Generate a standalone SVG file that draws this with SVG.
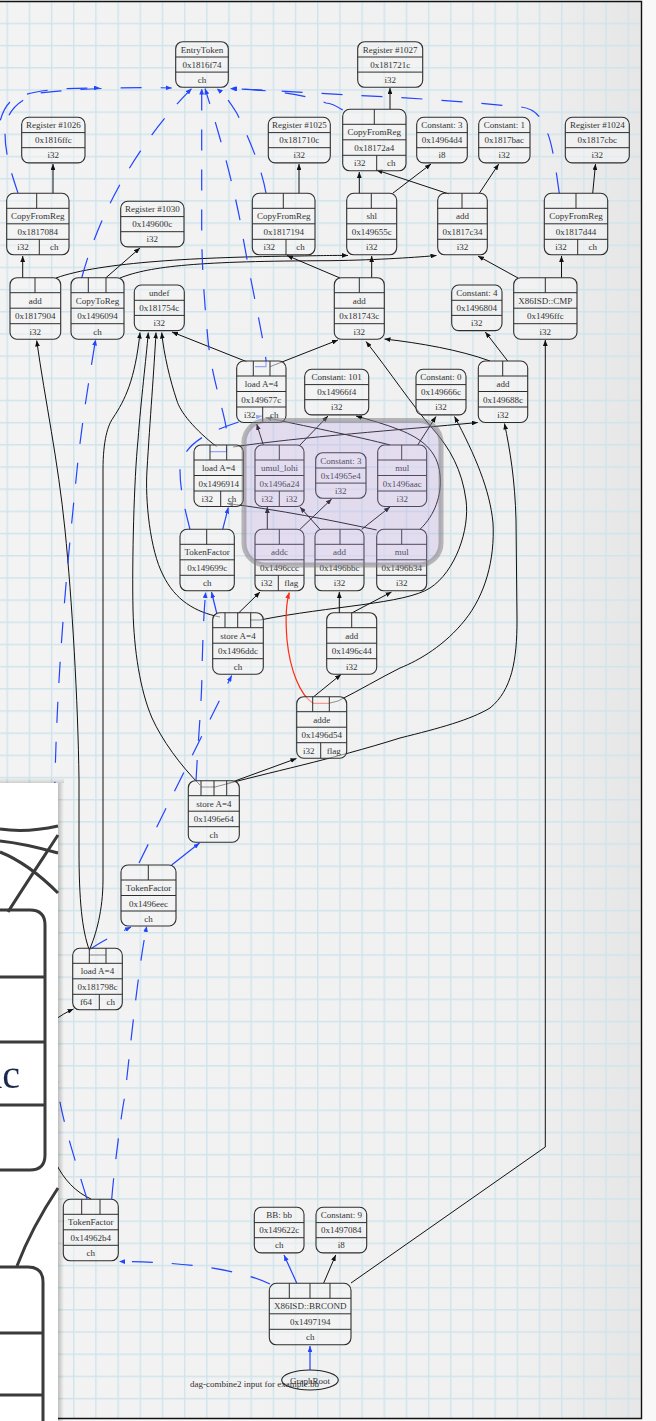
<svg xmlns="http://www.w3.org/2000/svg" width="656" height="1421" viewBox="0 0 656 1421">
<defs>
<style>
.nb{fill:#f4f4f4;fill-opacity:.55;stroke:#2e2e2e;stroke-width:1.1}
.nl{fill:none;stroke:#2e2e2e;stroke-width:1}
.t{font-family:"Liberation Serif","Times New Roman",serif;font-size:9px;fill:#333;text-anchor:middle}
.e{fill:none;stroke:#111;stroke-width:1;marker-end:url(#ab)}
.en{fill:none;stroke:#111;stroke-width:1}
.c{fill:none;stroke:#2244ff;stroke-width:1.2;stroke-dasharray:21 19;marker-end:url(#ac)}
.cs{fill:none;stroke:#2244ff;stroke-width:1.2;marker-end:url(#ac)}
.r{fill:none;stroke:#ff2a10;stroke-width:1.2;marker-end:url(#ar)}
.ink{fill:none;stroke:#3a3a3a;stroke-width:3}
</style>
<pattern id="grid" x="6.5" y="0.5" width="22.18" height="22.18" patternUnits="userSpaceOnUse">
<path d="M0.7,0V22.18M0,0.7H22.18" stroke="#cfe4ec" stroke-width="1.4" fill="none"/>
</pattern>
<linearGradient id="page" x1="0" y1="0" x2="1" y2="0">
<stop offset="0" stop-color="#f3f3f3"/><stop offset="0.8" stop-color="#f0f0f0"/><stop offset="1" stop-color="#e6e6e6"/>
</linearGradient>
<linearGradient id="sh" x1="0" y1="0" x2="1" y2="0">
<stop offset="0" stop-color="#000" stop-opacity=".22"/><stop offset="1" stop-color="#000" stop-opacity="0"/>
</linearGradient>
<linearGradient id="shv" x1="0" y1="1" x2="0" y2="0">
<stop offset="0" stop-color="#000" stop-opacity=".15"/><stop offset="1" stop-color="#000" stop-opacity="0"/>
</linearGradient>
<filter id="blur" x="-10%" y="-10%" width="120%" height="120%"><feGaussianBlur stdDeviation="0.7"/></filter>
<marker id="ab" viewBox="0 0 10 8" refX="10" refY="4" markerWidth="6" markerHeight="4.8" markerUnits="userSpaceOnUse" orient="auto"><path d="M0,0L10,4L0,8z" fill="#111"/></marker>
<marker id="ac" viewBox="0 0 10 8" refX="10" refY="4" markerWidth="6" markerHeight="4.8" markerUnits="userSpaceOnUse" orient="auto"><path d="M0,0L10,4L0,8z" fill="#2244ff"/></marker>
<marker id="ar" viewBox="0 0 10 8" refX="10" refY="4" markerWidth="6" markerHeight="4.8" markerUnits="userSpaceOnUse" orient="auto"><path d="M0,0L10,4L0,8z" fill="#ff2a10"/></marker>
</defs>

<rect x="0" y="0" width="656" height="1421" fill="#f8f8f8"/>
<rect x="0" y="1.5" width="641.5" height="1417" fill="url(#page)"/>
<rect x="0" y="1.5" width="641.5" height="1417" fill="url(#grid)"/>
<path d="M0,1.5H641.5V1418.5H0" fill="none" stroke="#111" stroke-width="1.4"/>

<g id="connectors">
<!-- data edges -->
<path class="e" d="M53,193.3V164"/>
<path class="e" d="M299,193.3V164"/>
<path class="e" d="M390,109.3V88"/>
<path class="e" d="M592.7,193.3L595.5,164"/>
<path class="e" d="M359.3,193.3V172"/>
<path class="e" d="M392.7,193.3L431,164"/>
<path class="e" d="M449,194L376.5,170"/>
<path class="e" d="M479.3,193.3L498.7,164"/>
<path class="e" d="M371.7,277.7V256"/>
<path class="e" d="M340,278L287,255.5"/>
<path class="e" d="M518,278L478,256"/>
<path class="e" d="M561.5,277.7V256"/>
<path class="e" d="M22.7,277.7V256"/>
<path class="e" d="M56,278C100,262 200,257 300,256C325,255.5 338,255.3 348,255.5"/>
<path class="e" d="M106,277.7L140,248"/>
<path class="e" d="M120,278C150,266 200,261 330,260.7C380,260 420,257 436.5,255.5"/>
<path class="e" d="M246.7,361.7L172,332"/>
<path class="e" d="M270,366.7L338,340"/>
<path class="e" d="M490,361C460,350 420,343 384.5,339"/>
<path class="e" d="M507.7,361L485.3,332"/>
<path class="e" d="M216.7,446.7C195,430 180,412 176.7,400C170,380 164,355 161.7,332.5"/>
<path class="e" d="M233,447C300,437 400,430 477.7,422.5"/>
<path class="e" d="M263.3,445L256.7,424"/>
<path class="e" d="M300,445L328,416"/>
<path class="e" d="M390,445C360,437 300,425 265.5,417.5"/>
<path class="e" d="M417.7,445L436,416.5"/>
<path class="e" d="M267.3,529.3V507"/>
<path class="e" d="M300,529.3L331.7,499"/>
<path class="e" d="M320,529.3L300,507"/>
<path class="e" d="M361.7,529.3L390,507"/>
<path class="e" d="M376.7,530C330,520 280,510 227,503.5"/>
<path class="e" d="M420,529.3C435,515 442,495 440,475C438,450 420,438 400,430C385,424 370,420 356,416"/>
<path class="e" d="M238.3,613.3L260,592"/>
<path class="e" d="M250,620H260C330,606 405,604 430,588C455,572 470,530 466,500C462,470 450,448 432,428C412,405 390,372 366,341.5"/>
<path class="e" d="M220,617C195,612 175,600 163,575C150,550 145,500 147,470C150,420 154,370 156,332.5"/>
<path class="e" d="M339.3,613V592"/>
<path class="e" d="M351.7,613L391.5,592"/>
<path class="e" d="M313.3,697L341,674.5"/>
<path class="en" d="M330,703L338,701"/>
<path class="e" d="M338,701C360,690 380,678 400,668C420,660 445,645 465,620C485,595 495,560 493,523C490,490 475,455 454.5,416.5"/>
<path class="e" d="M226.7,784L296.5,758.5"/>
<path class="e" d="M201,787H215C270,772 330,760 400,738C440,728 470,720 490,708C512,690 517,660 517,620L516,520C515,480 510,450 504.5,423.5"/>
<path class="e" d="M200,785C180,765 162,740 152,718C140,690 134,650 133,610C132,560 134,480 138,440C141,400 146,360 148.3,332.5"/>
<path class="en" d="M89.3,955H106"/>
<path class="e" d="M89.3,950C82,930 79,900 79,850L79,780C78,700 72,600 65,530C58,460 45,400 36.7,340.5"/>
<path class="e" d="M89.3,950C96,935 103,910 103,880L103,470C103,440 108,425 113,418C125,400 135,380 140,332.5"/>
<path class="e" d="M91,1199C60,1185 45,1150 40,1100L40,1040C45,1025 60,1015 73.5,1009"/>
<path class="e" d="M323.7,1283L335.7,1255"/>
<path class="e" d="M351,1283L545.3,1147V340"/>
<!-- red flag edge -->
<path class="r" d="M330,703.3H313C300,695 290,670 287,640C285,615 287,600 289.3,592.5"/>
<!-- chain edges -->
<path class="cs" d="M216.7,613L211.5,592"/>
<path class="cs" d="M222.7,529.3L228.3,507.5"/>
<path class="cs" d="M171.7,865L199.5,843"/>
<path class="cs" d="M296.7,1283L284,1255"/>
<path class="cs" d="M310,1370V1346"/>
<path class="c" d="M139,863C170,800 205,730 231.7,675.5"/>
<path class="c" d="M196,781C198,740 202,700 202,670C203,630 204,610 205.7,592"/>
<path class="c" d="M89.3,950C100,942 115,935 131,927"/>
<path class="c" d="M87,1199C75,1160 62,1120 58,1090C52,1000 53,850 55,778C58,650 70,540 77,470C82,420 90,375 95.5,339.5"/>
<path class="c" d="M111.7,1199C115,1160 122,1110 125,1095C130,1050 138,970 146.7,926"/>
<path class="c" d="M270,1284C240,1270 190,1262 119,1261.5"/>
<path class="c" d="M190,529.3C185,510 180,490 180,470C181,455 190,445 203,437C215,430 240,420 262,416"/>
<path class="c" d="M18,193C12,175 5,155 5,133C5,115 15,100 40,93C80,88 140,87 171.7,88"/>
<path class="c" d="M-5,160C-3,130 0,112 10,102C25,90 60,88 100,88"/>
<path class="c" d="M81.7,278C100,210 140,140 191.7,88.5"/>
<path class="c" d="M210,451.7H226.5V430C224,410 212,380 208,340C204,300 201.7,260 201.7,230L201.7,88.5"/>
<path class="c" d="M255,366.7H266V360C262,330 250,280 240,220C230,170 215,120 205,88.5"/>
<path class="c" d="M266,193C262,170 250,140 236.7,113C230,102 225,95 216.7,88.5"/>
<path class="c" d="M342.7,110C335,105 330,103 326,103C300,92 260,90 230,88.5"/>
<path class="c" d="M559.3,193.3C556,170 552,140 546,130C540,112 530,107 517,106.7C470,102 400,97 347.7,95C300,92 260,90 231,88.5"/>
</g>

<g id="nodes">
<g id="n_entry" transform="translate(175.7,41.7)"><rect class="nb" width="52.6" height="45.6" rx="7"/><path class="nl" d="M0,15.3H52.6M0,30.4H52.6"/><text class="t" x="26.3" y="11">EntryToken</text><text class="t" x="26.3" y="26">0x1816f74</text><text class="t" x="26.3" y="41.2">ch</text></g>
<g id="n_reg1027" transform="translate(357.7,41.7)"><rect class="nb" width="65" height="45.6" rx="7"/><path class="nl" d="M0,15.3H65M0,30.4H65"/><text class="t" x="32.5" y="11">Register #1027</text><text class="t" x="32.5" y="26">0x181721c</text><text class="t" x="32.5" y="41.2">i32</text></g>
<g id="n_reg1026" transform="translate(21.7,117.3)"><rect class="nb" width="63.3" height="45.6" rx="7"/><path class="nl" d="M0,15.3H63.3M0,30.4H63.3"/><text class="t" x="31.65" y="11">Register #1026</text><text class="t" x="31.65" y="26">0x1816ffc</text><text class="t" x="31.65" y="41.2">i32</text></g>
<g id="n_reg1025" transform="translate(268.3,117.3)"><rect class="nb" width="62" height="45.6" rx="7"/><path class="nl" d="M0,15.3H62M0,30.4H62"/><text class="t" x="31" y="11">Register #1025</text><text class="t" x="31" y="26">0x181710c</text><text class="t" x="31" y="41.2">i32</text></g>
<g id="n_const3a" transform="translate(416.7,117.3)"><rect class="nb" width="50.6" height="45.6" rx="7"/><path class="nl" d="M0,15.3H50.6M0,30.4H50.6"/><text class="t" x="25.3" y="11">Constant: 3</text><text class="t" x="25.3" y="26">0x14964d4</text><text class="t" x="25.3" y="41.2">i8</text></g>
<g id="n_const1" transform="translate(478.7,117.3)"><rect class="nb" width="51.3" height="45.6" rx="7"/><path class="nl" d="M0,15.3H51.3M0,30.4H51.3"/><text class="t" x="25.65" y="11">Constant: 1</text><text class="t" x="25.65" y="26">0x1817bac</text><text class="t" x="25.65" y="41.2">i32</text></g>
<g id="n_reg1024" transform="translate(565.3,117.3)"><rect class="nb" width="64" height="45.6" rx="7"/><path class="nl" d="M0,15.3H64M0,30.4H64"/><text class="t" x="32" y="11">Register #1024</text><text class="t" x="32" y="26">0x1817cbc</text><text class="t" x="32" y="41.2">i32</text></g>
<g id="n_cfr72a4" transform="translate(342.7,109.3)"><rect class="nb" width="63.3" height="61.5" rx="7"/><path class="nl" d="M0,15H63.3M0,30.5H63.3M0,46H63.3M31.6,0V15M34,46V61.5"/><text class="t" x="31.65" y="26">CopyFromReg</text><text class="t" x="31.65" y="41.5">0x18172a4</text><text class="t" x="17" y="57">i32</text><text class="t" x="48.65" y="57">ch</text></g>
<g id="n_cfr7084" transform="translate(6.7,193.3)"><rect class="nb" width="62.3" height="61.5" rx="7"/><path class="nl" d="M0,15H62.3M0,30.5H62.3M0,46H62.3M30,0V15M32.6,46V61.5"/><text class="t" x="31.15" y="26">CopyFromReg</text><text class="t" x="31.15" y="41.5">0x1817084</text><text class="t" x="16.3" y="57">i32</text><text class="t" x="47.45" y="57">ch</text></g>
<g id="n_reg1030" transform="translate(120.7,201.3)"><rect class="nb" width="63.3" height="45.6" rx="7"/><path class="nl" d="M0,15.3H63.3M0,30.4H63.3"/><text class="t" x="31.65" y="11">Register #1030</text><text class="t" x="31.65" y="26">0x149600c</text><text class="t" x="31.65" y="41.2">i32</text></g>
<g id="n_cfr7194" transform="translate(252.3,193.3)"><rect class="nb" width="62.7" height="61.5" rx="7"/><path class="nl" d="M0,15H62.7M0,30.5H62.7M0,46H62.7M31,0V15M33.7,46V61.5"/><text class="t" x="31.35" y="26">CopyFromReg</text><text class="t" x="31.35" y="41.5">0x1817194</text><text class="t" x="16.85" y="57">i32</text><text class="t" x="48.2" y="57">ch</text></g>
<g id="n_shl" transform="translate(346.7,193.3)"><rect class="nb" width="50" height="61.5" rx="7"/><path class="nl" d="M0,15H50M0,30.5H50M0,46H50M24.6,0V15"/><text class="t" x="25" y="26">shl</text><text class="t" x="25" y="41.5">0x149655c</text><text class="t" x="25" y="57">i32</text></g>
<g id="n_add7c34" transform="translate(437.7,193.3)"><rect class="nb" width="49.6" height="61.5" rx="7"/><path class="nl" d="M0,15H49.6M0,30.5H49.6M0,46H49.6M24.3,0V15"/><text class="t" x="24.8" y="26">add</text><text class="t" x="24.8" y="41.5">0x1817c34</text><text class="t" x="24.8" y="57">i32</text></g>
<g id="n_cfr7d44" transform="translate(544.3,193.3)"><rect class="nb" width="63.4" height="61.5" rx="7"/><path class="nl" d="M0,15H63.4M0,30.5H63.4M0,46H63.4M31.7,0V15M33.4,46V61.5"/><text class="t" x="31.7" y="26">CopyFromReg</text><text class="t" x="31.7" y="41.5">0x1817d44</text><text class="t" x="16.7" y="57">i32</text><text class="t" x="48.4" y="57">ch</text></g>
<g id="n_add7904" transform="translate(10,277.7)"><rect class="nb" width="50.7" height="61.5" rx="7"/><path class="nl" d="M0,15H50.7M0,30.5H50.7M0,46H50.7M25,0V15"/><text class="t" x="25.35" y="26">add</text><text class="t" x="25.35" y="41.5">0x1817904</text><text class="t" x="25.35" y="57">i32</text></g>
<g id="n_ctr" transform="translate(71,277.7)"><rect class="nb" width="53" height="61.5" rx="7"/><path class="nl" d="M0,15H53M0,30.5H53M0,46H53M17.3,0V15M35,0V15"/><text class="t" x="26.5" y="26">CopyToReg</text><text class="t" x="26.5" y="41.5">0x1496094</text><text class="t" x="26.5" y="57">ch</text></g>
<g id="n_undef" transform="translate(134.3,285)"><rect class="nb" width="50" height="45.6" rx="7"/><path class="nl" d="M0,15.3H50M0,30.4H50"/><text class="t" x="25" y="11">undef</text><text class="t" x="25" y="26">0x181754c</text><text class="t" x="25" y="41.2">i32</text></g>
<g id="n_add743c" transform="translate(334.3,277.7)"><rect class="nb" width="50" height="61.5" rx="7"/><path class="nl" d="M0,15H50M0,30.5H50M0,46H50M25,0V15"/><text class="t" x="25" y="26">add</text><text class="t" x="25" y="41.5">0x181743c</text><text class="t" x="25" y="57">i32</text></g>
<g id="n_const4" transform="translate(451.7,285)"><rect class="nb" width="50.3" height="45.6" rx="7"/><path class="nl" d="M0,15.3H50.3M0,30.4H50.3"/><text class="t" x="25.15" y="11">Constant: 4</text><text class="t" x="25.15" y="26">0x1496804</text><text class="t" x="25.15" y="41.2">i32</text></g>
<g id="n_cmp" transform="translate(513.7,277.7)"><rect class="nb" width="63.3" height="61.5" rx="7"/><path class="nl" d="M0,15H63.3M0,30.5H63.3M0,46H63.3M31.6,0V15"/><text class="t" x="31.65" y="26">X86ISD::CMP</text><text class="t" x="31.65" y="41.5">0x1496ffc</text><text class="t" x="31.65" y="57">i32</text></g>
<g id="n_load677c" transform="translate(236.7,361)"><rect class="nb" width="49.3" height="61.5" rx="7"/><path class="nl" d="M0,15H49.3M0,30.5H49.3M0,46H49.3M16.6,0V15M33.3,0V15M26,46V61.5"/><text class="t" x="24.65" y="26">load A=4</text><text class="t" x="24.65" y="41.5">0x149677c</text><text class="t" x="13" y="57">i32</text><text class="t" x="37.65" y="57">ch</text></g>
<g id="n_const101" transform="translate(304.7,369.3)"><rect class="nb" width="64" height="45.6" rx="7"/><path class="nl" d="M0,15.3H64M0,30.4H64"/><text class="t" x="32" y="11">Constant: 101</text><text class="t" x="32" y="26">0x14966f4</text><text class="t" x="32" y="41.2">i32</text></g>
<g id="n_const0" transform="translate(416,369.3)"><rect class="nb" width="50" height="45.6" rx="7"/><path class="nl" d="M0,15.3H50M0,30.4H50"/><text class="t" x="25" y="11">Constant: 0</text><text class="t" x="25" y="26">0x149666c</text><text class="t" x="25" y="41.2">i32</text></g>
<g id="n_add688c" transform="translate(478.3,361)"><rect class="nb" width="49.4" height="61.5" rx="7"/><path class="nl" d="M0,15H49.4M0,30.5H49.4M0,46H49.4M24.4,0V15"/><text class="t" x="24.7" y="26">add</text><text class="t" x="24.7" y="41.5">0x149688c</text><text class="t" x="24.7" y="57">i32</text></g>
<g id="n_load6914" transform="translate(194,445)"><rect class="nb" width="49.3" height="61.5" rx="7"/><path class="nl" d="M0,15H49.3M0,30.5H49.3M0,46H49.3M16,0V15M32.7,0V15M26.7,46V61.5"/><text class="t" x="24.65" y="26">load A=4</text><text class="t" x="24.65" y="41.5">0x1496914</text><text class="t" x="13.35" y="57">i32</text><text class="t" x="38" y="57">ch</text></g>
<g id="n_umul" transform="translate(255,445)"><rect class="nb" width="49" height="61.5" rx="7"/><path class="nl" d="M0,15H49M0,30.5H49M0,46H49M24.3,0V15M24.3,46V61.5"/><text class="t" x="24.5" y="26">umul_lohi</text><text class="t" x="24.5" y="41.5">0x1496a24</text><text class="t" x="12.15" y="57">i32</text><text class="t" x="36.65" y="57">i32</text></g>
<g id="n_const3b" transform="translate(315.7,452.7)"><rect class="nb" width="50.3" height="45.6" rx="7"/><path class="nl" d="M0,15.3H50.3M0,30.4H50.3"/><text class="t" x="25.15" y="11">Constant: 3</text><text class="t" x="25.15" y="26">0x14965e4</text><text class="t" x="25.15" y="41.2">i32</text></g>
<g id="n_mul6aac" transform="translate(377.7,445)"><rect class="nb" width="49" height="61.5" rx="7"/><path class="nl" d="M0,15H49M0,30.5H49M0,46H49M24,0V15"/><text class="t" x="24.5" y="26">mul</text><text class="t" x="24.5" y="41.5">0x1496aac</text><text class="t" x="24.5" y="57">i32</text></g>
<g id="n_tf699c" transform="translate(180,529.3)"><rect class="nb" width="54.3" height="61.5" rx="7"/><path class="nl" d="M0,15H54.3M0,30.5H54.3M0,46H54.3M26.7,0V15"/><text class="t" x="27.15" y="26">TokenFactor</text><text class="t" x="27.15" y="41.5">0x149699c</text><text class="t" x="27.15" y="57">ch</text></g>
<g id="n_addc" transform="translate(255,529.3)"><rect class="nb" width="49" height="61.5" rx="7"/><path class="nl" d="M0,15H49M0,30.5H49M0,46H49M24.3,0V15M23.3,46V61.5"/><text class="t" x="24.5" y="26">addc</text><text class="t" x="24.5" y="41.5">0x1496ccc</text><text class="t" x="11.65" y="57">i32</text><text class="t" x="36.15" y="57">flag</text></g>
<g id="n_add6bbc" transform="translate(315,529.3)"><rect class="nb" width="49" height="61.5" rx="7"/><path class="nl" d="M0,15H49M0,30.5H49M0,46H49M25,0V15"/><text class="t" x="24.5" y="26">add</text><text class="t" x="24.5" y="41.5">0x1496bbc</text><text class="t" x="24.5" y="57">i32</text></g>
<g id="n_mul6b34" transform="translate(376.7,529.3)"><rect class="nb" width="50" height="61.5" rx="7"/><path class="nl" d="M0,15H50M0,30.5H50M0,46H50M25,0V15"/><text class="t" x="25" y="26">mul</text><text class="t" x="25" y="41.5">0x1496b34</text><text class="t" x="25" y="57">i32</text></g>
<g id="n_store6ddc" transform="translate(212.7,612.7)"><rect class="nb" width="50.6" height="61.5" rx="7"/><path class="nl" d="M0,15H50.6M0,30.5H50.6M0,46H50.6M12.3,0V15M25,0V15M38,0V15"/><text class="t" x="25.3" y="26">store A=4</text><text class="t" x="25.3" y="41.5">0x1496ddc</text><text class="t" x="25.3" y="57">ch</text></g>
<g id="n_add6c44" transform="translate(326.7,612.7)"><rect class="nb" width="50" height="61.5" rx="7"/><path class="nl" d="M0,15H50M0,30.5H50M0,46H50M25,0V15"/><text class="t" x="25" y="26">add</text><text class="t" x="25" y="41.5">0x1496c44</text><text class="t" x="25" y="57">i32</text></g>
<g id="n_adde" transform="translate(296.7,696.7)"><rect class="nb" width="50" height="61.5" rx="7"/><path class="nl" d="M0,15H50M0,30.5H50M0,46H50M16,0V15M32.6,0V15M24,46V61.5"/><text class="t" x="25" y="26">adde</text><text class="t" x="25" y="41.5">0x1496d54</text><text class="t" x="12" y="57">i32</text><text class="t" x="37" y="57">flag</text></g>
<g id="n_store6e64" transform="translate(188.3,780.7)"><rect class="nb" width="51" height="61.5" rx="7"/><path class="nl" d="M0,15H51M0,30.5H51M0,46H51M12.7,0V15M25.7,0V15M38.4,0V15"/><text class="t" x="25.5" y="26">store A=4</text><text class="t" x="25.5" y="41.5">0x1496e64</text><text class="t" x="25.5" y="57">ch</text></g>
<g id="n_tf6eec" transform="translate(121,865)"><rect class="nb" width="55" height="61" rx="7"/><path class="nl" d="M0,15H55M0,30.5H55M0,46H55M27.3,0V15"/><text class="t" x="27.5" y="26">TokenFactor</text><text class="t" x="27.5" y="41.5">0x1496eec</text><text class="t" x="27.5" y="57">ch</text></g>
<g id="n_load798c" transform="translate(72.7,948.3)"><rect class="nb" width="49.6" height="61.5" rx="7"/><path class="nl" d="M0,15H49.6M0,30.5H49.6M0,46H49.6M16.6,0V15M33.3,0V15M26.6,46V61.5"/><text class="t" x="24.8" y="26">load A=4</text><text class="t" x="24.8" y="41.5">0x181798c</text><text class="t" x="13.3" y="57">f64</text><text class="t" x="38.1" y="57">ch</text></g>
<g id="n_tf62b4" transform="translate(63.3,1199.3)"><rect class="nb" width="55" height="61.5" rx="7"/><path class="nl" d="M0,15H55M0,30.5H55M0,46H55M18.4,0V15M36.7,0V15"/><text class="t" x="27.5" y="26">TokenFactor</text><text class="t" x="27.5" y="41.5">0x14962b4</text><text class="t" x="27.5" y="57">ch</text></g>
<g id="n_bb" transform="translate(254.3,1207.3)"><rect class="nb" width="49.7" height="45.6" rx="7"/><path class="nl" d="M0,15.3H49.7M0,30.4H49.7"/><text class="t" x="24.85" y="11">BB: bb</text><text class="t" x="24.85" y="26">0x149622c</text><text class="t" x="24.85" y="41.2">ch</text></g>
<g id="n_const9" transform="translate(316,1207.3)"><rect class="nb" width="50.7" height="45.6" rx="7"/><path class="nl" d="M0,15.3H50.7M0,30.4H50.7"/><text class="t" x="25.35" y="11">Constant: 9</text><text class="t" x="25.35" y="26">0x1497084</text><text class="t" x="25.35" y="41.2">i8</text></g>
<g id="n_brcond" transform="translate(269.3,1283.3)"><rect class="nb" width="81.7" height="61.5" rx="7"/><path class="nl" d="M0,15H81.7M0,30.5H81.7M0,46H81.7M20,0V15M40.7,0V15M60.7,0V15"/><text class="t" x="40.85" y="26">X86ISD::BRCOND</text><text class="t" x="40.85" y="41.5">0x1497194</text><text class="t" x="40.85" y="57">ch</text></g>
<g id="n_root"><ellipse cx="310" cy="1380" rx="28.3" ry="10" fill="none" stroke="#222" stroke-width="1.1"/><text class="t" x="310" y="1383.5">GraphRoot</text></g>
</g>

<text class="t" x="254.5" y="1386.5">dag-combine2 input for example.bb</text>

<g id="cluster">
<rect x="244" y="420.5" width="197" height="144.5" rx="22" fill="#b89ae8" fill-opacity=".25" stroke="#7a7a7a" stroke-opacity=".5" stroke-width="5"/>
</g>

<g id="inset">
<rect x="58" y="783" width="6" height="640" fill="url(#sh)"/>
<rect x="0" y="778" width="64" height="5" fill="url(#shv)"/>
<rect x="-2" y="783" width="60" height="640" fill="#ffffff"/>
<g filter="url(#blur)">
<path class="ink" d="M0,829C20,832 40,830 58,826"/>
<path class="ink" d="M0,841C20,843 40,848 58,853"/>
<path class="ink" d="M0,852C20,860 40,875 58,893"/>
<path class="ink" d="M8,912C25,885 45,855 58,835"/>
<path class="ink" d="M0,910H30Q45,910 45,925V1155Q45,1170 30,1170H0"/>
<path class="ink" d="M0,977H45M0,1042H45M0,1105H45"/>
<path class="ink" d="M58,1188C40,1215 25,1245 17,1266"/>
<path class="ink" d="M0,1267H28Q43,1267 43,1282V1425M0,1333H43M0,1395H43"/>
<text x="20" y="1088" font-family="Liberation Serif, serif" font-size="40" fill="#1d2b4a" text-anchor="end">ac</text>
</g>
</g>
</svg>
